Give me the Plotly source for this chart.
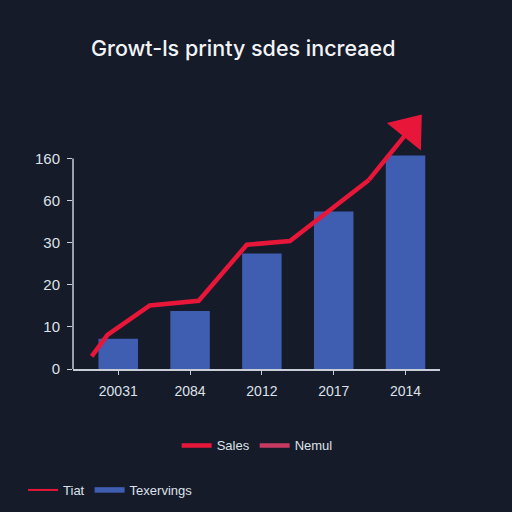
import plotly.graph_objects as go

# categories and values (y in axis-step units, ticks are evenly spaced labels)
years = ["20031", "2084", "2012", "2017", "2014"]
bar_pos = [0, 1, 2, 3, 4]
bar_vals = [0.72, 1.38, 2.74, 3.74, 5.07]

y_tick_labels = ["0", "10", "20", "30", "60", "160"]
y_tick_pos = [0, 1, 2, 3, 4, 5]

sales_x = [-0.37, -0.15, 0.44, 1.12, 1.79, 2.39, 3.49, 4.06]
sales_y = [0.30, 0.81, 1.51, 1.62, 2.95, 3.04, 4.49, 5.69]

bg = "#151b29"
red = "#e8173a"
blue = "#3f5eb2"
txt = "#dde1ea"
axis_col = "#c9cdd8"

fig = go.Figure()
fig.add_trace(go.Bar(x=bar_pos, y=bar_vals, width=0.55, marker_color=blue,
                     marker_line_width=0, showlegend=False, hoverinfo="skip"))
fig.add_trace(go.Scatter(x=sales_x[:-1], y=sales_y[:-1], mode="lines", name="Sales",
                         line=dict(color=red, width=4.5), cliponaxis=False, legend="legend",
                         hoverinfo="skip"))
# arrow head
fig.add_trace(go.Scatter(x=sales_x[-2:], y=sales_y[-2:], mode="lines+markers", showlegend=False,
                         line=dict(color=red, width=4.5), cliponaxis=False, hoverinfo="skip",
                         marker=dict(symbol=["circle", "triangle-up"], size=[0, 38], angleref="previous",
                                     color=red, opacity=1, line_width=0)))
# legend-only entries
fig.add_trace(go.Scatter(x=[None], y=[None], mode="lines", name="Nemul",
                         line=dict(color="#c83a62", width=4.5), legend="legend"))
fig.add_trace(go.Scatter(x=[None], y=[None], mode="lines", name="Tiat",
                         line=dict(color=red, width=2), legend="legend2"))
fig.add_trace(go.Scatter(x=[None], y=[None], mode="lines", name="Texervings",
                         line=dict(color=blue, width=5.5), legend="legend2"))

# y axis line only up to the top tick
fig.add_shape(type="line", xref="paper", yref="y", x0=0, x1=0, y0=0, y1=y_tick_pos[-1],
              line=dict(color=axis_col, width=1.5))

fig.update_layout(
    width=512, height=512,
    paper_bgcolor=bg, plot_bgcolor=bg,
    margin=dict(l=73, r=72, t=110, b=143),
    font=dict(family="Liberation Sans, Arial", color=txt, size=13),
    title=dict(text="Growt-ls printy sdes increaed", x=0.475, xanchor="center", y=0.906, yanchor="middle",
               font=dict(family="Inter, Liberation Sans", size=21.5, weight=500, color="#f2f3f6")),
    xaxis=dict(range=[-0.63, 4.48], tickvals=bar_pos, ticktext=years, showgrid=False, zeroline=False,
               showline=True, linecolor=axis_col, linewidth=1.5, ticks="outside", ticklen=4,
               tickcolor=axis_col, tickfont=dict(size=14), ticklabelstandoff=4),
    yaxis=dict(range=[0, 6.15], tickvals=y_tick_pos, ticktext=y_tick_labels, showgrid=False, zeroline=False,
               showline=False, ticks="outside", ticklen=5, ticklabelstandoff=4,
               tickcolor=axis_col, tickfont=dict(size=15)),
    legend=dict(orientation="h", xref="container", yref="container", x=0.345, y=0.13,
                xanchor="left", yanchor="middle", bgcolor="rgba(0,0,0,0)", font=dict(size=13)),
    legend2=dict(orientation="h", xref="container", yref="container", x=0.045, y=0.043,
                 xanchor="left", yanchor="middle", bgcolor="rgba(0,0,0,0)", font=dict(size=13)),
)

fig.write_html("out.html", config={"displayModeBar": False},
               post_script="document.body.style.margin='0';")
